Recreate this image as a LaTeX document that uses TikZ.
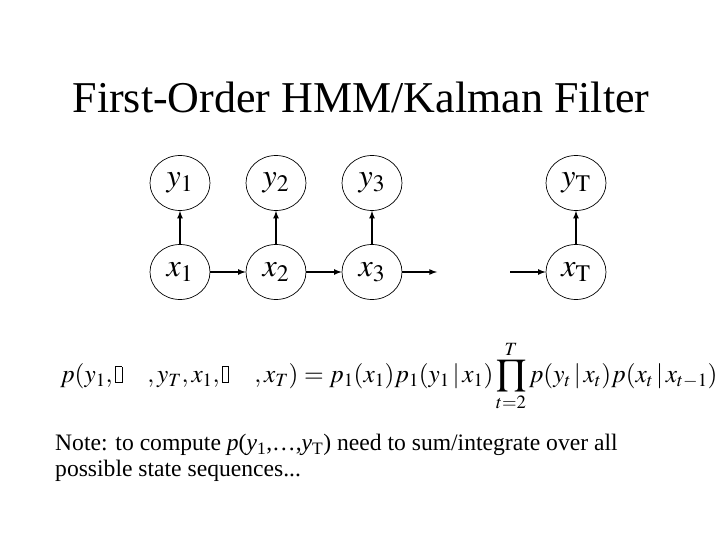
\documentclass[tikz,border=0pt]{standalone}
\usepackage{amsmath}
\usepackage{mathptmx}
\usepackage{fontspec}
\setmainfont{Liberation Serif}
\usepackage{tikz}
\usetikzlibrary{positioning,shapes.geometric}

\newcommand{\lostglyph}{{\setlength{\fboxsep}{0pt}\setlength{\fboxrule}{0.5pt}\fbox{\rule{0pt}{0.62em}\hspace{0.22em}}}}

\tikzset{
  var/.style={ellipse,draw,line width=0.7pt,minimum width=60pt,minimum height=55pt,inner sep=0pt,font=\fontsize{32}{36}\selectfont},
  link/.style={-latex,line width=1.6pt}
}

\begin{document}
\begin{tikzpicture}[x=1pt,y=-1pt]
			\useasboundingbox (0,0) rectangle (720,540);
			
			\node[font=\fontsize{44}{50}\selectfont] (title) at (361,97) {First-Order HMM/Kalman Filter};
			
			\node[var] (y1) at (180,183) {$y_1$};
			\node[var] (y2) at (276,183) {$y_2$};
			\node[var] (y3) at (372,183) {$y_3$};
			\node[var] (yT) at (576,183) {$y_{\mathrm{T}}$};
			\node[var] (x1) at (180,272) {$x_1$};
			\node[var] (x2) at (276,272) {$x_2$};
			\node[var] (x3) at (372,272) {$x_3$};
			\node[var] (xT) at (576,272) {$x_{\mathrm{T}}$};
			\coordinate (gapin) at (437,272);
			\coordinate (gapout) at (510,272);
			
			\draw[link] (x1)--(y1);
			\draw[link] (x2)--(y2);
			\draw[link] (x3)--(y3);
			\draw[link] (xT)--(yT);
			\draw[link] (x1)--(x2);
			\draw[link] (x2)--(x3);
			\draw[link] (x3)--(gapin);
			\draw[link] (gapout)--(xT);
			
			\node[anchor=west,inner sep=0pt,font=\fontsize{25.3}{30}\selectfont] (joint) at (60,376)
				{$\displaystyle p(y_1,\lostglyph\quad,y_T,x_1,\lostglyph\quad,x_T)=p_1(x_1)p_1(y_1\,|\,x_1)\prod_{t=2}^{T}p(y_t\,|\,x_t)p(x_t\,|\,x_{t-1})$};
			
			\node[anchor=north west,inner sep=0pt,align=left,font=\fontsize{23.6}{26}\selectfont] (note) at (55,434)
				{Note: to compute \textit{p}(\textit{y}\textsubscript{1},\dots,\textit{y}\textsubscript{T}) need to sum/integrate over all\\possible state sequences...};
			
		\end{tikzpicture}
\end{document}
